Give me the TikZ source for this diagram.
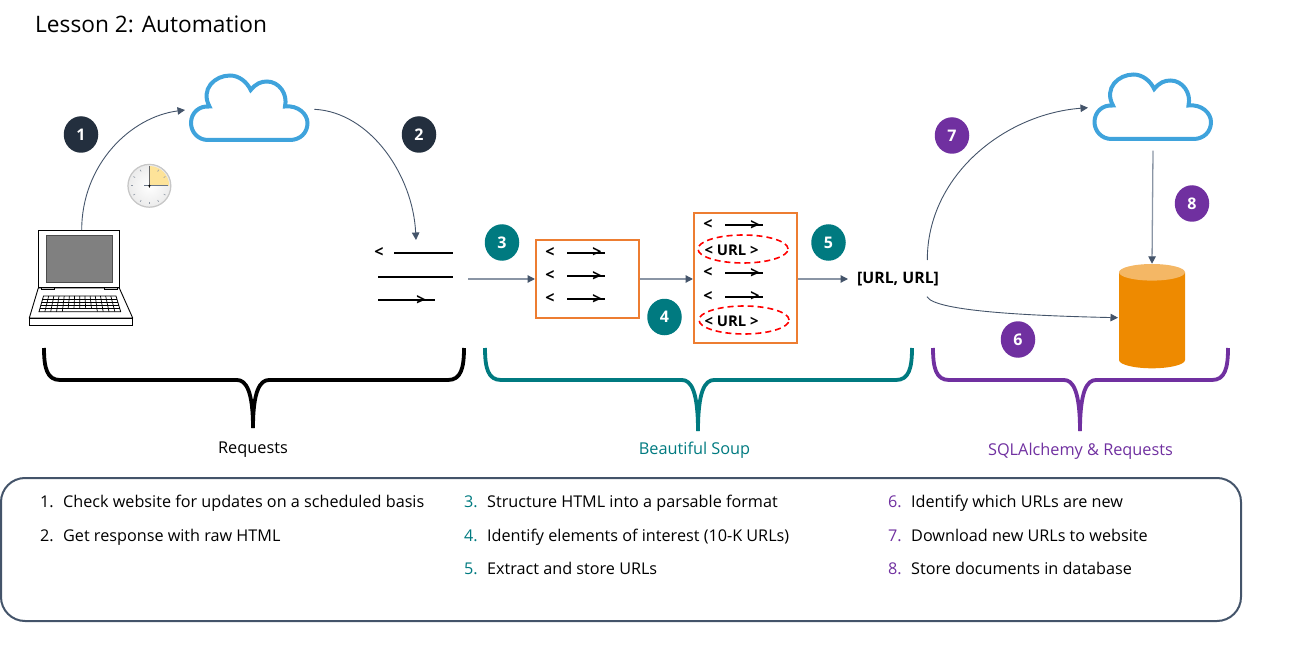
\documentclass[tikz,border=0pt]{standalone}
\usepackage{fontspec}
\setmainfont{Open Sans}
\usetikzlibrary{arrows.meta,shapes.geometric}
\definecolor{slate}{HTML}{44546A}
\definecolor{slatel}{HTML}{8A95A5}
\definecolor{dark}{HTML}{232F3E}
\definecolor{tealc}{HTML}{007A80}
\definecolor{purp}{HTML}{7030A0}
\definecolor{orng}{HTML}{ED7D31}
\definecolor{cloudc}{HTML}{3FA3DC}
\definecolor{cyl}{HTML}{EE8A00}
\definecolor{cylt}{HTML}{F4B765}
\newcommand{\cloudpath}[2]{%
\draw[cloudc,line width=4pt,line join=miter,shift={(#1,#2)}]
 (19.5,32.5) .. controls (10,15) and (25,1.5) .. (40,1.5)
 .. controls (49,1.5) and (57,8) .. (60.7,16)
 .. controls (66,9.5) and (71,7.5) .. (77,7.5)
 .. controls (89,7.5) and (98,20) .. (95,32.5)
 .. controls (108,31) and (117.5,40) .. (117.5,49)
 .. controls (117.5,59) and (110,66) .. (100,66)
 -- (18,66) .. controls (8,66) and (1,58) .. (1,49)
 .. controls (1,39) and (9,31.5) .. (19.5,32.5) -- cycle;}
\newcommand{\bracketshape}[5]{%
\draw[#5,line width=3.8pt]
 (#1,348) .. controls (#1,368) and ({#1+3},380) .. ({#1+16},380)
 -- ({#2-16},380) .. controls ({#2-7},380) and (#2,391) .. (#2,#4);
\draw[#5,line width=3.8pt]
 (#3,348) .. controls (#3,368) and ({#3-3},380) .. ({#3-16},380)
 -- ({#2+16},380) .. controls ({#2+7},380) and (#2,391) .. (#2,#4);}
\tikzset{
 conn/.style={slate,line width=0.9pt,-{Triangle[length=7.5pt,width=7.5pt]}},
 connl/.style={slatel,line width=1.3pt,-{Triangle[length=7.5pt,width=7.5pt,color=slate]}},
 badge/.style={ellipse,fill=#1,text=white,minimum width=34.5pt,minimum height=36.5pt,inner sep=0pt,font=\fontsize{16}{18}\selectfont\bfseries},
 orangebox/.style={draw=orng,line width=2pt,fill=none,inner sep=0pt},
 lbl/.style={inner sep=0pt,anchor=base west,font=\fontsize{16.2}{18}\selectfont},
 captiontext/.style={inner sep=0pt,anchor=base,font=\fontsize{16.3}{18}\selectfont},
 gl/.style={inner sep=0pt,font=\fontsize{16}{15}\selectfont\bfseries},
 urlt/.style={inner sep=0pt,font=\fontsize{14.8}{16}\selectfont\bfseries},
 redell/.style={ellipse,draw=red,line width=1.6pt,dash pattern=on 6pt off 4pt,inner sep=0pt,minimum width=90pt,minimum height=28pt},
 hl/.style={black,line width=2pt},
}
\newcommand{\htmlrow}[4]{%
\draw[hl] ({#2+17},{#3+1}) -- ({#2+55},{#3+1});
\node[gl] (#1l) at (#2,{#3+0.5}) {<};
\node[gl] (#1r) at ({#2+47},{#3+1}) {>};}
\begin{document}
\begin{tikzpicture}[x=1pt,y=-1pt]
\useasboundingbox (0,0) rectangle (1304,671);
% title
\node[inner sep=0pt,anchor=base west,font=\fontsize{22.7}{26}\selectfont] (title) at (35,33) {Lesson 2: Automation};
% clouds
\node[minimum width=118pt,minimum height=67pt,inner sep=0pt] (cloudA) at (249,108.5) {};
\cloudpath{190}{74}
\node[minimum width=118pt,minimum height=67pt,inner sep=0pt] (cloudB) at (1152.5,107.5) {};
\cloudpath{1093.5}{73}
% laptop
\node[minimum width=81pt,minimum height=56.5pt,inner sep=0pt] (laptop) at (81,258.5) {};
\draw[black,line width=0.9pt] (38.3,230.3) rectangle (119.3,287);
\draw[fill=gray!100,draw=black!70,line width=1pt] (46,235.3) rectangle (112.3,282.7);
\draw[black,line width=0.9pt,line join=round] (38.3,288) -- (119.3,288) -- (132.7,318) -- (29.3,318) -- cycle;
\draw[black,line width=0.9pt] (29.3,318) rectangle (132.7,325.5);
\draw[black,line width=0.8pt,fill=gray!50] (41,287) rectangle (54,289.5);
\draw[black,line width=0.8pt,fill=gray!50] (104,287) rectangle (117,289.5);
\draw[black,line width=0.8pt] (43.5,296) -- (116,296) -- (120.7,311.7) -- (39,311.7) -- cycle;
\foreach \t in {0.2,0.4,0.6,0.8} {
 \draw[black,line width=0.7pt] ({43.5-4.5*\t},{296+15.7*\t}) -- ({116+4.7*\t},{296+15.7*\t});}
\foreach \c in {1,...,13} {
 \draw[black,line width=0.7pt] ({43.5+72.5*\c/14},296) -- ({39+81.7*\c/14},{296+15.7*(1-0.2*(\c>4)*(\c<10))});}
% clock
\shade[inner color=white,outer color=black!8] (149.4,185.8) circle (22);
\draw[black!22,line width=1.2pt] (149.4,185.8) circle (21.4);
\fill[yellow!50!orange!38] (149.4,185.8) -- (149.4,166) arc[start angle=-90,end angle=0,radius=19.8] -- cycle;
\foreach \a in {0,30,...,330} {
 \draw[slate!60,line width=0.6pt] ({149.4+16.5*cos(\a)},{185.8+16.5*sin(\a)}) -- ({149.4+18.5*cos(\a)},{185.8+18.5*sin(\a)});}
\draw[black!60,line width=0.8pt] (149.4,166) -- (149.4,188);
\draw[slate!80,line width=0.8pt] (144,185.8) -- (168,185.8);
\fill[black] (149.4,185.8) circle (1.2);
% raw html
\node[gl] (rawl) at (379,252.5) {<};
\draw[hl] (394,253) -- (453,253);
\coordinate (rawa) at (416,240);
\draw[hl] (378,277) -- (453,277);
\draw[hl] (378,300) -- (435,300);
\node[gl] (rawr) at (421,300) {>};
\coordinate (rawb) at (468,279);
% box 1
\node[orangebox,minimum width=103pt,minimum height=78pt] (boxA) at (587.5,279) {};
\htmlrow{a}{550}{252}{}
\htmlrow{b}{550}{275}{}
\htmlrow{c}{550}{298}{}
% box 2
\node[orangebox,minimum width=103pt,minimum height=130pt] (boxB) at (745.5,278) {};
\htmlrow{d}{708}{224.5}{}
\htmlrow{e}{708}{272}{}
\htmlrow{f}{708}{295.5}{}
\node[urlt] (urlA) at (731.5,250.5) {< URL >};
\node[urlt] (urlB) at (731.5,321.5) {< URL >};
\node[redell] (ellA) at (743,249) {};
\node[redell] (ellB) at (744,320) {};
% list
\node[inner sep=0pt,anchor=west,font=\fontsize{15.8}{18}\selectfont\bfseries] (urls) at (857,279) {[URL, URL]};
\coordinate (urlTop) at (927.3,260);
\coordinate (urlBot) at (927,296.7);
% cylinder
\node[minimum width=66pt,minimum height=104pt,inner sep=0pt] (db) at (1152,316) {};
\fill[cyl] (1119,272.3) -- (1119,360) arc[start angle=180,end angle=0,x radius=33,y radius=8.3] -- (1185,272.3) -- cycle;
\fill[cylt] (1152,272.3) ellipse[x radius=33,y radius=8.3];
% connectors
\coordinate (c1e) at (185,110);
\coordinate (c2s) at (314.3,109.3);
\coordinate (c7e) at (1088,107.7);
\coordinate (c6e) at (1118,317.7);
\coordinate (c8s) at (1153,150.7);
\draw[conn] (laptop.north) ++(0.7,0) .. controls (81.7,165) and (130,117) .. (c1e);
\draw[conn] (c2s) .. controls (370,112) and (413,175) .. (rawa);
\draw[connl] (rawb) -- (boxA.west);
\draw[connl] (boxA.east) -- (boxA.east -| boxB.west);
\draw[connl] (boxB.east |- urls.west) -- ([xshift=-9pt]urls.west);
\draw[conn] (urlTop) .. controls (927.3,175) and (1005,114) .. (c7e);
\draw[conn] (urlBot) .. controls (935,312) and (1040,316) .. (c6e);
\draw[connl] (c8s) -- (db.north);
% badges
\node[badge=dark] (n1) at (81,134.5) {1};
\node[badge=dark] (n2) at (419,134.5) {2};
\node[badge=tealc] (n3) at (502,242.5) {3};
\node[badge=tealc] (n4) at (664.5,317) {4};
\node[badge=tealc] (n5) at (828.5,242.5) {5};
\node[badge=purp] (n6) at (1018,339.5) {6};
\node[badge=purp] (n7) at (952,135.5) {7};
\node[badge=purp] (n8) at (1192,203.5) {8};
% brackets
\bracketshape{44}{253}{464}{428}{black}
\bracketshape{485}{698}{912}{431}{tealc}
\bracketshape{933}{1080}{1228}{431}{purp}
\node[captiontext] (tA) at (253,453) {Requests};
\node[captiontext,text=tealc] (tB) at (694.5,454) {Beautiful Soup};
\node[captiontext,text=purp] (tC) at (1080.5,455) {SQLAlchemy \& Requests};
% panel
\node[draw=slate,line width=2pt,rounded corners=24pt,minimum width=1240pt,minimum height=143pt,inner sep=0pt] (panel) at (621,549.5) {};
\foreach \nm/\x/\y/\col/\num/\txt in {
 a/40/507/black/1./Check website for updates on a scheduled basis,
 b/40/541/black/2./Get response with raw HTML,
 c/464/507/tealc/3./Structure HTML into a parsable format,
 d/464/541/tealc/4./Identify elements of interest (10-K URLs),
 e/464/574/tealc/5./Extract and store URLs,
 f/888/507/purp/6./Identify which URLs are new,
 g/888/541/purp/7./Download new URLs to website,
 h/888/574/purp/8./Store documents in database} {
 \node[lbl,text=\col] (num\nm) at (\x,\y) {\num};
 \node[lbl] (txt\nm) at ({\x+23},\y) {\txt};
}
\end{tikzpicture}
\end{document}
